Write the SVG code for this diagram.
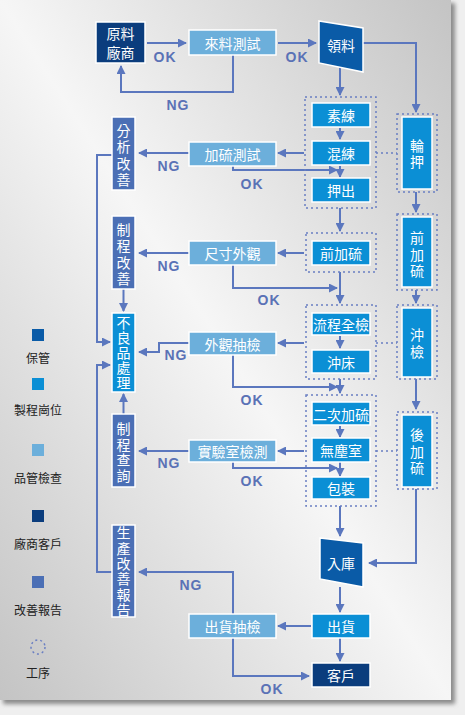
<svg xmlns="http://www.w3.org/2000/svg" width="465" height="715" viewBox="0 0 465 715">
<defs>
<linearGradient id="bg" x1="1" y1="0" x2="0" y2="1">
<stop offset="0" stop-color="#c4c4c4"/>
<stop offset="0.5" stop-color="#f6f6f6"/>
<stop offset="1" stop-color="#c4c4c4"/>
</linearGradient>
<filter id="sh" x="-5%" y="-5%" width="110%" height="110%"><feGaussianBlur stdDeviation="2"/></filter>
<marker id="ah" markerUnits="userSpaceOnUse" markerWidth="9" markerHeight="9" refX="8" refY="4.5" orient="auto">
<path d="M0,0 L9,4.5 L0,9 z" fill="#5b77be"/>
</marker>
<style>
.box{stroke:#fff;stroke-width:1.5}
.p{fill:#0b8fd5}.q{fill:#6cafdb}.s{fill:#0a5ba7}.c{fill:#0b3d7d}.r{fill:#4b6fb5}
.grp{fill:none;stroke:#6a7fc2;stroke-width:1.5;stroke-dasharray:2 3}
.lbl{font-family:"Noto Sans CJK TC","Noto Sans CJK SC",sans-serif;font-size:14px;fill:#fff;text-anchor:middle;dominant-baseline:central}
.v{writing-mode:vertical-rl;text-orientation:upright}
.lg{font-family:"Noto Sans CJK TC","Noto Sans CJK SC",sans-serif;font-size:12px;fill:#222;text-anchor:middle;dominant-baseline:central}
.ok{font-family:"Liberation Sans",Arial,sans-serif;font-weight:bold;font-size:14px;fill:#5a72b6;letter-spacing:1px;text-anchor:middle;dominant-baseline:central}
.cn{fill:none;stroke:#5b77be;stroke-width:2}
.cn path{marker-end:url(#ah)}
.dt{fill:none;stroke:#6a7fc2;stroke-width:1.5;stroke-dasharray:2 3}
</style>
</defs>
<rect width="465" height="715" fill="#efefef"/>
<rect x="3" y="3" width="452" height="701" fill="#8a8a8a" filter="url(#sh)"/>
<rect x="0" y="0" width="451" height="700" fill="url(#bg)"/>

<g id="legend">
<rect x="32" y="329" width="12" height="12" class="s"/><text class="lg" x="38" y="357">保管</text>
<rect x="32" y="378" width="12" height="12" class="p"/><text class="lg" x="38" y="409">製程崗位</text>
<rect x="32" y="444" width="12" height="12" class="q"/><text class="lg" x="38" y="477">品管檢查</text>
<rect x="32" y="510" width="12" height="12" class="c"/><text class="lg" x="38" y="543">廠商客戶</text>
<rect x="32" y="576" width="12" height="12" class="r"/><text class="lg" x="38" y="609">改善報告</text>
<circle cx="38" cy="647" r="7" class="dt"/><text class="lg" x="38" y="672">工序</text>
</g>

<g id="connectors">
<g class="cn">
<path d="M147,43 H186"/>
<path d="M278,43 H316"/>
<path d="M233,55 V92 H121 V66"/>
<path d="M340,66 V95"/>
<path d="M363,43 H416 V112"/>
<path d="M340,128 V139"/>
<path d="M304,153 H278"/>
<path d="M189,153 H139"/>
<path d="M233,166 V170 H337"/>
<path d="M340,166 V177"/>
<path d="M416,192 V212"/>
<path d="M340,208 V231"/>
<path d="M304,253 H278"/>
<path d="M189,253 H139"/>
<path d="M233,265 V288 H337"/>
<path d="M340,272 V303"/>
<path d="M416,290 V303"/>
<path d="M123.5,289 V311"/>
<path d="M112,155 H97 V342 H110"/>
<path d="M340,336 V348"/>
<path d="M304,343 H278"/>
<path d="M189,343 H159 V352 H139"/>
<path d="M233,355 V387 H337"/>
<path d="M340,379 V393"/>
<path d="M416,379 V409"/>
<path d="M123.5,414 V394"/>
<path d="M340,426 V437"/>
<path d="M304,451 H278"/>
<path d="M189,451 H139"/>
<path d="M233,462 V468 H337"/>
<path d="M340,462 V476"/>
<path d="M340,506 V536"/>
<path d="M416,489 V563 H369"/>
<path d="M340,587 V612"/>
<path d="M311,626 H278"/>
<path d="M233,614 V572 H139"/>
<path d="M112,572 H97 V365 H110"/>
<path d="M340,638 V661"/>
<path d="M233,638 V676 H309"/>
</g>
<path class="dt" d="M376,153 H397 M376,343 H397 M376,451 H397"/>
<text class="ok" x="165" y="57">OK</text>
<text class="ok" x="297" y="57">OK</text>
<text class="ok" x="178" y="105">NG</text>
<text class="ok" x="169" y="166">NG</text>
<text class="ok" x="252" y="184">OK</text>
<text class="ok" x="169" y="266">NG</text>
<text class="ok" x="269" y="300">OK</text>
<text class="ok" x="176" y="355">NG</text>
<text class="ok" x="252" y="400">OK</text>
<text class="ok" x="169" y="463">NG</text>
<text class="ok" x="252" y="481">OK</text>
<text class="ok" x="191" y="585">NG</text>
<text class="ok" x="272" y="689">OK</text>
</g>

<g id="groups">
<rect class="grp" x="305" y="97" width="71" height="111"/>
<rect class="grp" x="397" y="114" width="40" height="78"/>
<rect class="grp" x="306" y="233" width="70" height="39"/>
<rect class="grp" x="397" y="214" width="40" height="76"/>
<rect class="grp" x="306" y="305" width="70" height="74"/>
<rect class="grp" x="397" y="305" width="40" height="74"/>
<rect class="grp" x="306" y="395" width="70" height="111"/>
<rect class="grp" x="397" y="412" width="40" height="77"/>
</g>

<g id="n-yuanliao"><rect class="box c" x="96" y="22" width="49" height="41"/><text class="lbl"><tspan x="120.5" y="33">原料</tspan><tspan x="120.5" y="52">廠商</tspan></text></g>
<g id="n-lailiao"><rect class="box q" x="189" y="30" width="87" height="25"/><text class="lbl" x="232.5" y="42.5">來料測試</text></g>
<g id="n-lingliao"><polygon class="box s" points="319,21 363,28 363,72 319,63"/><text class="lbl" x="341" y="45">領料</text></g>
<g id="n-sulian"><rect class="box p" x="312" y="103" width="58" height="24"/><text class="lbl" x="341" y="115">素練</text></g>
<g id="n-hunlian"><rect class="box p" x="312" y="141" width="58" height="24"/><text class="lbl" x="341" y="153">混練</text></g>
<g id="n-yachu"><rect class="box p" x="312" y="178" width="58" height="24"/><text class="lbl" x="341" y="190">押出</text></g>
<g id="n-lunya"><rect class="box p" x="402" y="117" width="30" height="72"/><text class="lbl v" x="417" y="155" style="letter-spacing:2px">輪押</text></g>
<g id="n-jialiu-test"><rect class="box q" x="189" y="142" width="87" height="24"/><text class="lbl" x="232.5" y="154">加硫測試</text></g>
<g id="n-fenxi"><rect class="box r" x="112" y="117" width="23" height="73"/><text class="lbl v" x="123.5" y="156.5" style="letter-spacing:2.5px">分析改善</text></g>
<g id="n-qianjialiu"><rect class="box p" x="312" y="241" width="58" height="24"/><text class="lbl" x="341" y="253">前加硫</text></g>
<g id="n-qianjialiu2"><rect class="box p" x="402" y="217" width="30" height="70"/><text class="lbl v" x="417" y="255.5" style="letter-spacing:2.5px">前加硫</text></g>
<g id="n-chicun"><rect class="box q" x="189" y="241" width="87" height="24"/><text class="lbl" x="232.5" y="253">尺寸外觀</text></g>
<g id="n-zhicheng1"><rect class="box r" x="112" y="216" width="23" height="73"/><text class="lbl v" x="123.5" y="255.5" style="letter-spacing:2.5px">制程改善</text></g>
<g id="n-buliang"><rect class="box p" x="112" y="313" width="23" height="79"/><text class="lbl v" x="123.5" y="353.5" style="letter-spacing:1px">不良品處理</text></g>
<g id="n-liucheng"><rect class="box p" x="312" y="313" width="58" height="22"/><text class="lbl" x="341" y="324">流程全檢</text></g>
<g id="n-chongchuang"><rect class="box p" x="312" y="350" width="58" height="23"/><text class="lbl" x="341" y="361.5">沖床</text></g>
<g id="n-chongjian"><rect class="box p" x="402" y="308" width="30" height="69"/><text class="lbl v" x="417" y="344.5" style="letter-spacing:3px">沖檢</text></g>
<g id="n-waiguan"><rect class="box q" x="189" y="332" width="87" height="23"/><text class="lbl" x="232.5" y="343.5">外觀抽檢</text></g>
<g id="n-erci"><rect class="box p" x="312" y="402" width="58" height="23"/><text class="lbl" x="341" y="413.5">二次加硫</text></g>
<g id="n-wuchen"><rect class="box p" x="312" y="438" width="58" height="24"/><text class="lbl" x="341" y="450">無塵室</text></g>
<g id="n-baozhuang"><rect class="box p" x="312" y="477" width="58" height="22"/><text class="lbl" x="341" y="488">包裝</text></g>
<g id="n-houjialiu"><rect class="box p" x="402" y="415" width="30" height="72"/><text class="lbl v" x="417" y="452.5" style="letter-spacing:2.5px">後加硫</text></g>
<g id="n-shiyan"><rect class="box q" x="189" y="440" width="87" height="22"/><text class="lbl" x="232.5" y="451">實驗室檢測</text></g>
<g id="n-zhicheng2"><rect class="box r" x="112" y="414" width="23" height="73"/><text class="lbl v" x="123.5" y="453" style="letter-spacing:1.5px">制程查詢</text></g>
<g id="n-ruku"><polygon class="box s" points="320,538 363,543 363,587 320,579"/><text class="lbl" x="341" y="563">入庫</text></g>
<g id="n-shengchan"><rect class="box r" x="112" y="525" width="23" height="92"/><text class="lbl v" x="123.5" y="572" style="letter-spacing:1.3px">生產改善報告</text></g>
<g id="n-chuhuo"><rect class="box p" x="312" y="614" width="58" height="24"/><text class="lbl" x="341" y="626">出貨</text></g>
<g id="n-chuhuo-check"><rect class="box q" x="189" y="614" width="87" height="24"/><text class="lbl" x="232.5" y="626">出貨抽檢</text></g>
<g id="n-kehu"><rect class="box c" x="312" y="663" width="58" height="24"/><text class="lbl" x="341" y="675">客戶</text></g>
</svg>
